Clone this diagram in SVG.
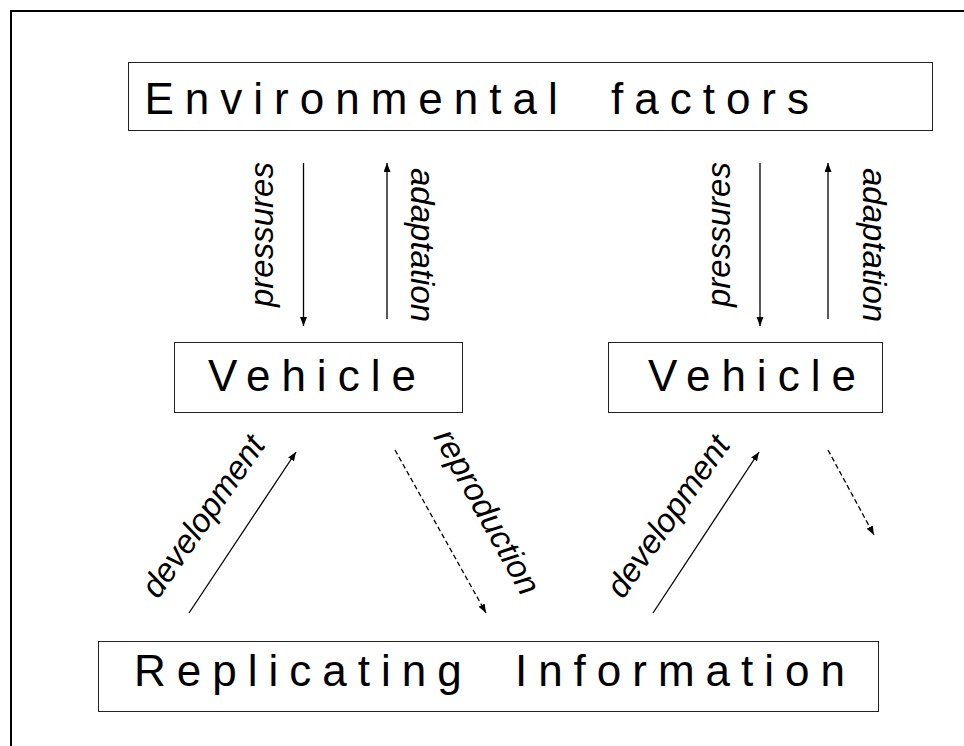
<svg xmlns="http://www.w3.org/2000/svg" width="964" height="746" viewBox="0 0 964 746">
<defs>
<style>
.box{fill:#fff;stroke:#222;stroke-width:1}
.big{font-family:"Liberation Sans",Arial,sans-serif;font-size:44px;letter-spacing:11px;word-spacing:19px;fill:#000}
.lbl{font-family:"Liberation Sans",Arial,sans-serif;font-size:33px;font-style:italic;fill:#000}
.ln{stroke:#000;stroke-width:1.3;fill:none}
.dash{stroke-dasharray:5,3}
</style>
<marker id="ah" markerUnits="userSpaceOnUse" markerWidth="10" markerHeight="8" refX="9" refY="3.5" orient="auto">
<path d="M0,0 L9,3.5 L0,7 z" fill="#000"/>
</marker>
</defs>
<rect width="964" height="746" fill="#fff"/>
<path d="M11,746 V11 H964" stroke="#000" stroke-width="2" fill="none"/>
<g id="env">
<rect class="box" x="128.5" y="62.5" width="804" height="68"/>
<text class="big" x="144.5" y="114">Environmental factors</text>
</g>
<g id="vehicle1">
<rect class="box" x="174.5" y="342.5" width="288" height="70"/>
<text class="big" x="208" y="391">Vehicle</text>
</g>
<g id="vehicle2">
<rect class="box" x="608.5" y="342.5" width="274" height="70"/>
<text class="big" x="648" y="391">Vehicle</text>
</g>
<g id="replicating">
<rect class="box" x="98.5" y="641.5" width="780" height="70"/>
<text class="big" x="134" y="686">Replicating Information</text>
</g>
<g id="connectors">
<line class="ln" x1="303.5" y1="163" x2="303.5" y2="326" marker-end="url(#ah)"/>
<line class="ln" x1="387" y1="319" x2="387" y2="163" marker-end="url(#ah)"/>
<line class="ln" x1="760" y1="163" x2="760" y2="326" marker-end="url(#ah)"/>
<line class="ln" x1="828" y1="319" x2="828" y2="163" marker-end="url(#ah)"/>
<line class="ln" x1="189" y1="613" x2="296" y2="452" marker-end="url(#ah)"/>
<line class="ln dash" x1="395" y1="450" x2="486" y2="613" marker-end="url(#ah)"/>
<line class="ln" x1="653" y1="613" x2="759" y2="452" marker-end="url(#ah)"/>
<line class="ln dash" x1="828" y1="450" x2="874" y2="535" marker-end="url(#ah)"/>
<text class="lbl" transform="translate(273,307) rotate(-90)">pressures</text>
<text class="lbl" transform="translate(411,168) rotate(90)">adaptation</text>
<text class="lbl" transform="translate(730,307) rotate(-90)">pressures</text>
<text class="lbl" transform="translate(863,168) rotate(90)">adaptation</text>
<text class="lbl" transform="translate(158,600) rotate(-55)">development</text>
<text class="lbl" transform="translate(433,437) rotate(61)">reproduction</text>
<text class="lbl" transform="translate(623,600) rotate(-55)">development</text>
</g>
</svg>
